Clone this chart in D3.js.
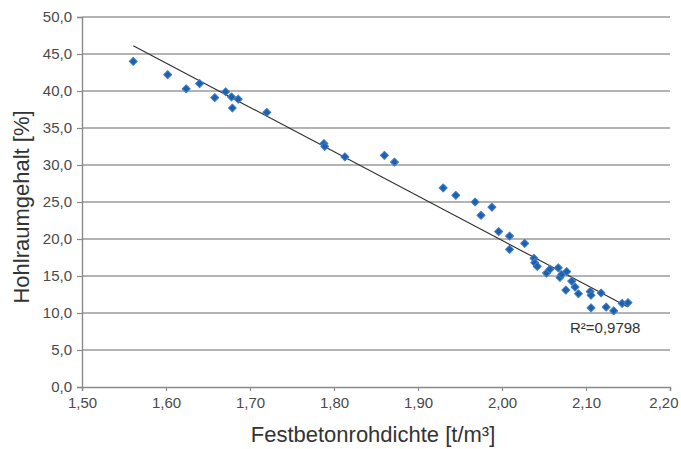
<!DOCTYPE html>
<html>
<head>
<meta charset="utf-8">
<script src="https://cdn.jsdelivr.net/npm/d3@7/dist/d3.min.js"></script>
<style>
  html, body { margin: 0; padding: 0; background: #fff; }
  svg { display: block; font-family: "Liberation Sans", Arial, Helvetica, sans-serif; }
</style>
</head>
<body>
<svg id="chart" width="681" height="449"></svg>
<script>
// Festbetonrohdichte [t/m³] of each specimen
const density = [
  1.561, 1.602, 1.624, 1.640, 1.658, 1.671, 1.678, 1.686, 1.679, 1.720,
  1.788, 1.789, 1.813, 1.860, 1.872, 1.930, 1.945, 1.968, 1.975, 1.988,
  1.996, 2.009, 2.009, 2.027, 2.038, 2.039, 2.042, 2.053, 2.057, 2.067,
  2.069, 2.071, 2.077, 2.076, 2.083, 2.087, 2.091, 2.105, 2.106, 2.118,
  2.106, 2.124, 2.133, 2.143, 2.150
];
// Hohlraumgehalt [%] of the same specimens
const voids = [
  44.0, 42.2, 40.3, 41.0, 39.1, 39.9, 39.2, 38.9, 37.7, 37.1,
  32.9, 32.5, 31.1, 31.3, 30.4, 26.9, 25.9, 25.0, 23.2, 24.3,
  21.0, 20.4, 18.6, 19.4, 17.4, 16.8, 16.3, 15.4, 15.9, 16.1,
  14.8, 15.2, 15.6, 13.1, 14.3, 13.5, 12.6, 12.9, 12.4, 12.7,
  10.7, 10.8, 10.3, 11.3, 11.4
];
const xTicks = [1.5, 1.6, 1.7, 1.8, 1.9, 2.0, 2.1, 2.2];
const yTicks = [0, 5, 10, 15, 20, 25, 30, 35, 40, 45, 50];
const rSquaredLabel = "R²=0,9798";

const svg = d3.select("#chart");
const margin = { left: 82, right: 11, top: 17, bottom: 62 };
const W = 681, H = 449;

const x = d3.scaleLinear().domain([1.5, 2.2]).range([margin.left, W - margin.right]);
const y = d3.scaleLinear().domain([0, 50]).range([H - margin.bottom, margin.top]);

const comma = (d, digits) => d.toFixed(digits).replace(".", ",");

// horizontal gridlines
svg.append("g")
  .selectAll("line")
  .data(yTicks.filter(d => d > 0))
  .join("line")
  .attr("x1", x(1.5)).attr("x2", x(2.2))
  .attr("y1", d => y(d)).attr("y2", d => y(d))
  .attr("stroke", "#9a9a9a").attr("stroke-width", 1.4);

// axes
const yAxis = d3.axisLeft(y).tickValues(yTicks).tickFormat(d => comma(d, 1)).tickSize(5).tickPadding(5);
const xAxis = d3.axisBottom(x).tickValues(xTicks).tickFormat(d => comma(d, 2)).tickSize(4).tickPadding(6);

const gy = svg.append("g").attr("transform", `translate(${x(1.5)},0)`).call(yAxis);
const gx = svg.append("g").attr("transform", `translate(0,${y(0)})`).call(xAxis);

[gx, gy].forEach(g => {
  g.select(".domain").attr("stroke", "#8a8a8a").attr("stroke-width", 1.4);
  g.selectAll(".tick line").attr("stroke", "#8a8a8a").attr("stroke-width", 1.2);
  g.selectAll(".tick text")
    .attr("fill", "#4a4a4a")
    .style("font-size", "15px");
});

// keep the last x label inside the frame
gx.selectAll(".tick text")
  .filter(d => d === xTicks[xTicks.length - 1])
  .attr("text-anchor", "end")
  .attr("x", W - 3 - x(xTicks[xTicks.length - 1]));

// linear trendline fitted to the specimens
const n = density.length;
const mx = d3.mean(density), my = d3.mean(voids);
let sxy = 0, sxx = 0;
for (let i = 0; i < n; i++) {
  sxy += (density[i] - mx) * (voids[i] - my);
  sxx += (density[i] - mx) ** 2;
}
const slope = sxy / sxx;
const intercept = my - slope * mx;
const [xMin, xMax] = d3.extent(density);

svg.append("line")
  .attr("x1", x(xMin)).attr("y1", y(intercept + slope * xMin))
  .attr("x2", x(xMax)).attr("y2", y(intercept + slope * xMax))
  .attr("stroke", "#2e2e2e").attr("stroke-width", 1.1);

// specimen markers (diamonds)
const diamond = d3.symbol().type(d3.symbolSquare).size(32);
svg.append("g")
  .selectAll("path")
  .data(density.map((d, i) => [d, voids[i]]))
  .join("path")
  .attr("d", diamond)
  .attr("transform", d => `translate(${x(d[0])},${y(d[1])}) rotate(45)`)
  .attr("fill", "#1f5fae")
  .attr("stroke", "#3f7fc8")
  .attr("stroke-width", 1)
  .attr("stroke-linejoin", "round");

// coefficient of determination
svg.append("text")
  .attr("x", 570).attr("y", 333)
  .attr("fill", "#333")
  .style("font-size", "15px")
  .text(rSquaredLabel);

// axis titles
svg.append("text")
  .attr("x", 373).attr("y", 442)
  .attr("text-anchor", "middle")
  .attr("fill", "#333")
  .style("font-size", "22px")
  .text("Festbetonrohdichte [t/m³]");

svg.append("text")
  .attr("transform", `translate(29,207) rotate(-90)`)
  .attr("text-anchor", "middle")
  .attr("fill", "#333")
  .style("font-size", "22px")
  .text("Hohlraumgehalt [%]");
</script>
</body>
</html>
